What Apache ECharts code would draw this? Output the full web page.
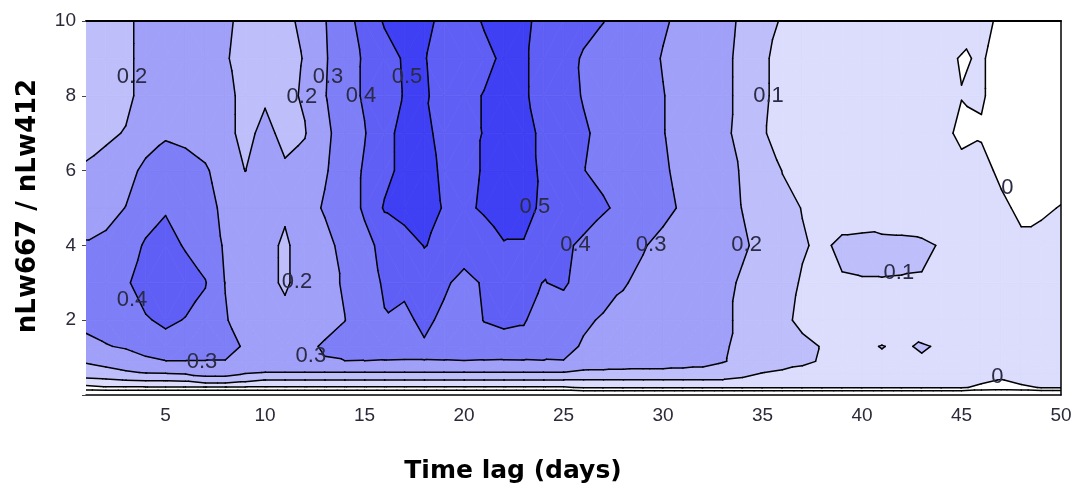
<!DOCTYPE html>
<html><head><meta charset="utf-8">
<script src="https://cdn.jsdelivr.net/npm/echarts@6/dist/echarts.min.js"></script>
<style>html,body{margin:0;padding:0;background:#fff}#c{width:1076px;height:489px}</style>
</head><body><div id="c"></div>
<script>
// ---- data ----
const xDays = [1,2,3,4,5,6,7,8,9,10,11,12,13,14,15,16,17,18,19,20,21,22,23,24,25,26,27,28,29,30,31,32,33,34,35,36,37,38,39,40,41,42,43,44,45,46,47,48,49,50];
const yRatio = [0, 0.2, 0.4, 0.6, 0.9, 1.3, 2, 3, 4, 5, 6, 7, 8, 9, 10];

const zAt0 = [-0.25,-0.25,-0.25,-0.25,-0.25,-0.25,-0.25,-0.25,-0.25,-0.25,-0.25,-0.25,-0.25,-0.25,-0.25,-0.25,-0.25,-0.25,-0.25,-0.25,-0.25,-0.25,-0.25,-0.25,-0.25,-0.25,-0.25,-0.25,-0.25,-0.25,-0.25,-0.25,-0.25,-0.25,-0.25,-0.25,-0.25,-0.25,-0.25,-0.25,-0.25,-0.25,-0.25,-0.25,-0.25,-0.25,-0.25,-0.25,-0.25,-0.25];
const zAt02 = [-0.03,-0.01,-0.01,-0.01,-0.01,-0.01,-0.01,-0.01,-0.01,-0.01,-0.01,-0.01,-0.01,-0.01,-0.01,-0.01,-0.01,-0.01,-0.01,-0.01,-0.01,-0.01,-0.01,-0.01,-0.01,0.01,0.01,0.01,0.01,0.01,0.01,0.01,0.01,0.01,0.01,0.01,0.01,0.01,0.01,0.01,0.01,0.01,0.01,0.01,0.01,-0.02,-0.04,-0.02,0.005,0.005];
const zAt04 = [0.08,0.09,0.102,0.11,0.11,0.12,0.17,0.17,0.13,0.098,0.098,0.098,0.098,0.098,0.098,0.098,0.098,0.098,0.098,0.098,0.098,0.098,0.098,0.098,0.098,0.098,0.098,0.098,0.098,0.098,0.098,0.098,0.098,0.09,0.07,0.07,0.07,0.07,0.07,0.07,0.07,0.07,0.07,0.07,0.07,0.02,-0.005,0.03,0.05,0.05];
const zAt06 = [0.15,0.17,0.19,0.205,0.21,0.22,0.23,0.23,0.21,0.198,0.198,0.198,0.198,0.198,0.198,0.198,0.198,0.198,0.198,0.198,0.198,0.198,0.198,0.198,0.198,0.18,0.18,0.18,0.18,0.18,0.18,0.18,0.16,0.12,0.101,0.09,0.085,0.08,0.08,0.08,0.08,0.08,0.08,0.08,0.08,0.08,0.08,0.08,0.08,0.08];
const zAt09 = [0.21,0.23,0.25,0.28,0.297,0.297,0.297,0.297,0.28,0.27,0.27,0.28,0.295,0.298,0.297,0.293,0.29,0.29,0.293,0.296,0.293,0.29,0.292,0.295,0.297,0.27,0.26,0.25,0.24,0.24,0.23,0.22,0.205,0.18,0.15,0.13,0.11,0.095,0.095,0.09,0.095,0.09,0.095,0.09,0.085,0.08,0.08,0.075,0.07,0.07];
const zAt13 = [0.28,0.295,0.31,0.34,0.36,0.36,0.35,0.33,0.29,0.26,0.26,0.28,0.31,0.34,0.36,0.37,0.37,0.39,0.37,0.36,0.37,0.38,0.38,0.36,0.33,0.29,0.28,0.27,0.26,0.25,0.24,0.23,0.21,0.18,0.15,0.13,0.11,0.098,0.095,0.095,0.101,0.095,0.104,0.095,0.09,0.085,0.08,0.075,0.07,0.07];
const zAt2 = [0.32,0.34,0.36,0.39,0.42,0.395,0.37,0.305,0.27,0.25,0.22,0.24,0.27,0.298,0.35,0.395,0.38,0.42,0.38,0.37,0.402,0.41,0.405,0.37,0.36,0.315,0.29,0.28,0.27,0.26,0.25,0.23,0.21,0.19,0.15,0.11,0.09,0.08,0.08,0.08,0.08,0.08,0.07,0.07,0.06,0.06,0.05,0.05,0.04,0.04];
const zAt3 = [0.33,0.36,0.385,0.45,0.47,0.45,0.405,0.298,0.26,0.22,0.19,0.23,0.27,0.31,0.36,0.41,0.42,0.43,0.415,0.37,0.41,0.43,0.42,0.398,0.41,0.37,0.34,0.305,0.285,0.27,0.26,0.24,0.22,0.19,0.15,0.12,0.095,0.09,0.095,0.097,0.097,0.096,0.095,0.08,0.07,0.06,0.05,0.04,0.04,0.04];
const zAt4 = [0.305,0.32,0.36,0.41,0.44,0.39,0.35,0.29,0.25,0.22,0.19,0.23,0.27,0.33,0.38,0.42,0.43,0.505,0.47,0.45,0.46,0.49,0.49,0.45,0.42,0.38,0.35,0.33,0.305,0.28,0.27,0.25,0.23,0.21,0.18,0.14,0.105,0.09,0.112,0.115,0.117,0.115,0.112,0.095,0.07,0.05,0.03,0.01,0.02,0.03];
const zAt5 = [0.27,0.27,0.302,0.36,0.39,0.37,0.33,0.28,0.25,0.24,0.21,0.26,0.31,0.36,0.41,0.51,0.56,0.56,0.49,0.485,0.51,0.57,0.55,0.47,0.47,0.45,0.41,0.38,0.35,0.32,0.29,0.26,0.23,0.198,0.16,0.12,0.098,0.08,0.07,0.07,0.06,0.06,0.05,0.04,0.03,0.02,0.01,-0.01,-0.01,0.003];
const zAt6 = [0.21,0.23,0.27,0.32,0.34,0.33,0.31,0.26,0.199,0.22,0.21,0.23,0.29,0.35,0.41,0.47,0.53,0.54,0.48,0.48,0.505,0.56,0.54,0.48,0.45,0.402,0.38,0.36,0.33,0.31,0.28,0.25,0.22,0.195,0.15,0.098,0.08,0.07,0.06,0.06,0.05,0.05,0.04,0.03,0.02,0.015,-0.01,-0.03,-0.03,-0.03];
const zAt7 = [0.17,0.185,0.205,0.26,0.29,0.28,0.26,0.22,0.18,0.22,0.18,0.195,0.28,0.34,0.395,0.47,0.53,0.53,0.46,0.46,0.505,0.55,0.53,0.48,0.44,0.41,0.38,0.36,0.33,0.303,0.27,0.24,0.215,0.18,0.105,0.08,0.07,0.06,0.06,0.05,0.05,0.04,0.04,0.02,-0.015,-0.005,-0.02,-0.03,-0.03,-0.03];
const zAt8 = [0.15,0.16,0.18,0.23,0.26,0.27,0.26,0.22,0.18,0.19,0.18,0.21,0.295,0.365,0.41,0.46,0.505,0.51,0.47,0.47,0.505,0.53,0.51,0.47,0.43,0.395,0.37,0.35,0.33,0.303,0.27,0.24,0.215,0.185,0.11,0.08,0.07,0.06,0.06,0.05,0.05,0.04,0.04,0.03,0.002,0.005,-0.02,-0.03,-0.03,-0.03];
const zAt9 = [0.15,0.16,0.18,0.23,0.26,0.27,0.26,0.21,0.16,0.15,0.17,0.205,0.29,0.36,0.41,0.46,0.51,0.505,0.46,0.46,0.47,0.52,0.51,0.47,0.44,0.39,0.37,0.35,0.33,0.295,0.27,0.24,0.215,0.185,0.11,0.08,0.07,0.06,0.06,0.05,0.05,0.04,0.04,0.02,-0.005,0.005,-0.02,-0.03,-0.03,-0.03];
const zAt10 = [0.15,0.16,0.18,0.23,0.25,0.26,0.25,0.22,0.17,0.15,0.18,0.22,0.295,0.37,0.43,0.51,0.56,0.53,0.47,0.45,0.51,0.56,0.52,0.47,0.45,0.43,0.402,0.37,0.34,0.31,0.28,0.25,0.22,0.19,0.14,0.09,0.08,0.07,0.06,0.06,0.05,0.05,0.04,0.04,0.04,0.015,-0.01,-0.03,-0.03,-0.03];

const zGrid = [zAt0, zAt02, zAt04, zAt06, zAt09, zAt13, zAt2, zAt3, zAt4, zAt5, zAt6, zAt7, zAt8, zAt9, zAt10];

const lineLevels = [-0.1, 0, 0.1, 0.2, 0.3, 0.4, 0.5];
const fillLevels = [0, 0.1, 0.2, 0.3, 0.4, 0.5];
const fillColors = ['#dcdcfc', '#bebefb', '#a0a0f9', '#7e7ef7', '#5f5ff5', '#3f3ff3'];

const labelText = ['0.2','0.3','0.2','0.4','0.5','0.1','0','0.5','0.4','0.3','0.2','0.1','0.2','0.4','0.3','0.3','0'];
const labelX = [3.31,13.16,11.85,14.82,17.13,35.3,47.3,23.56,25.6,29.4,34.2,41.85,11.6,3.31,6.83,12.3,46.8];
const labelY = [8.5,8.5,7.97,8.0,8.5,8.0,5.53,5.03,4.0,4.0,4.0,3.26,3.02,2.54,0.88,1.04,0.48];

const xTickValues = [5,10,15,20,25,30,35,40,45,50];

// ---- geometry (in data space) ----
function nz(v, L) { const d = v - L; return d === 0 ? 1e-9 : d; }
function clipPoly(poly, level, keepAbove) {
  const out = [];
  for (let i = 0; i < poly.length; i++) {
    const a = poly[i], b = poly[(i + 1) % poly.length];
    const da = nz(a[2], level), db = nz(b[2], level);
    const ina = keepAbove ? da > 0 : da < 0;
    const inb = keepAbove ? db > 0 : db < 0;
    if (ina) out.push(a);
    if (ina !== inb) {
      const t = da / (da - db);
      out.push([a[0] + t * (b[0] - a[0]), a[1] + t * (b[1] - a[1]), level]);
    }
  }
  return out;
}
const fillPolys = [];
const segs = [];
for (let j = 0; j < yRatio.length - 1; j++) {
  for (let i = 0; i < xDays.length - 1; i++) {
    const a = [xDays[i], yRatio[j], zGrid[j][i]];
    const b = [xDays[i + 1], yRatio[j], zGrid[j][i + 1]];
    const c = [xDays[i + 1], yRatio[j + 1], zGrid[j + 1][i + 1]];
    const d = [xDays[i], yRatio[j + 1], zGrid[j + 1][i]];
    const tris = Math.abs(a[2] - c[2]) <= Math.abs(b[2] - d[2]) ? [[a, b, c], [a, c, d]] : [[a, b, d], [b, c, d]];
    tris.forEach(tri => {
      for (let k = 0; k < fillLevels.length; k++) {
        let p = clipPoly(tri, fillLevels[k], true);
        if (p.length >= 3 && k + 1 < fillLevels.length) p = clipPoly(p, fillLevels[k + 1], false);
        if (p.length >= 3) fillPolys.push({ pts: p.map(q => [q[0], q[1]]), color: fillColors[k] });
      }
      lineLevels.forEach(L => {
        const pts = [];
        for (let e = 0; e < 3; e++) {
          const p = tri[e], q = tri[(e + 1) % 3];
          const dp = nz(p[2], L), dq = nz(q[2], L);
          if ((dp < 0) !== (dq < 0)) {
            const t = dp / (dp - dq);
            pts.push([p[0] + t * (q[0] - p[0]), p[1] + t * (q[1] - p[1])]);
          }
        }
        if (pts.length === 2) segs.push(pts);
      });
    });
  }
}

const chart = echarts.init(document.getElementById('c'));
chart.setOption({
  animation: false,
  backgroundColor: '#ffffff',
  grid: { left: 86, right: 15, top: 21, bottom: 94 },
  xAxis: [{
    type: 'value', min: 1, max: 50, z: 10,
    axisLine: { show: true, onZero: false, lineStyle: { color: '#000', width: 1.5 } },
    axisTick: { show: false },
    splitLine: { show: false },
    axisLabel: { customValues: xTickValues, margin: 11, fontSize: 19, fontFamily: 'Liberation Sans', color: '#2a2a3a' }
  }, {
    type: 'value', min: 1, max: 50, position: 'top', z: 10,
    axisLine: { show: true, onZero: false, lineStyle: { color: '#000', width: 2 } },
    axisTick: { show: false }, axisLabel: { show: false }, splitLine: { show: false }
  }],
  yAxis: [{
    type: 'value', min: 0, max: 10, interval: 2, z: 10,
    axisLine: { show: false, onZero: false },
    axisTick: { show: true, length: 4, lineStyle: { color: '#444' } },
    splitLine: { show: false },
    axisLabel: { margin: 10, fontSize: 19, fontFamily: 'Liberation Sans', color: '#2a2a3a', formatter: v => v === 0 ? '' : String(v) }
  }, {
    type: 'value', min: 0, max: 10, position: 'right', z: 10,
    axisLine: { show: true, onZero: false, lineStyle: { color: '#000', width: 1.5 } },
    axisTick: { show: false }, axisLabel: { show: false }, splitLine: { show: false }
  }],
  graphic: [
    { type: 'text', x: 513, y: 471, style: { text: 'Time lag (days)', font: 'bold 25px "DejaVu Sans"', fill: '#000', textAlign: 'center', textVerticalAlign: 'middle' } },
    { type: 'text', x: 28, y: 206, rotation: Math.PI / 2, style: { text: 'nLw667 / nLw412', font: 'bold 26px "DejaVu Sans"', fill: '#000', textAlign: 'center', textVerticalAlign: 'middle' } }
  ],
  series: [{
    type: 'custom', coordinateSystem: 'cartesian2d', silent: true, clip: true,
    data: [[1, 0]], encode: { x: 0, y: 1 },
    renderItem: (params, api) => ({
      type: 'group',
      children: fillPolys.map(f => ({
        type: 'polygon',
        shape: { points: f.pts.map(p => api.coord(p)) },
        style: { fill: f.color, stroke: f.color, lineWidth: 0.8 }
      }))
    })
  }, {
    type: 'custom', coordinateSystem: 'cartesian2d', silent: true, clip: true,
    data: [[1, 0]], encode: { x: 0, y: 1 },
    renderItem: (params, api) => ({
      type: 'group',
      children: segs.map(s => {
        const p = api.coord(s[0]), q = api.coord(s[1]);
        return { type: 'line', shape: { x1: p[0], y1: p[1], x2: q[0], y2: q[1] }, style: { stroke: '#000', lineWidth: 1.5, lineCap: 'round' } };
      })
    })
  }, {
    type: 'custom', coordinateSystem: 'cartesian2d', silent: true,
    data: labelX.map((x, i) => [x, labelY[i]]), encode: { x: 0, y: 1 },
    renderItem: (params, api) => {
      const p = api.coord([api.value(0), api.value(1)]);
      return { type: 'text', x: p[0], y: p[1], style: { text: labelText[params.dataIndex], textAlign: 'center', textVerticalAlign: 'middle', font: '22px "Liberation Sans"', fill: '#2b2b45' } };
    }
  }]
});
</script>
</body></html>
